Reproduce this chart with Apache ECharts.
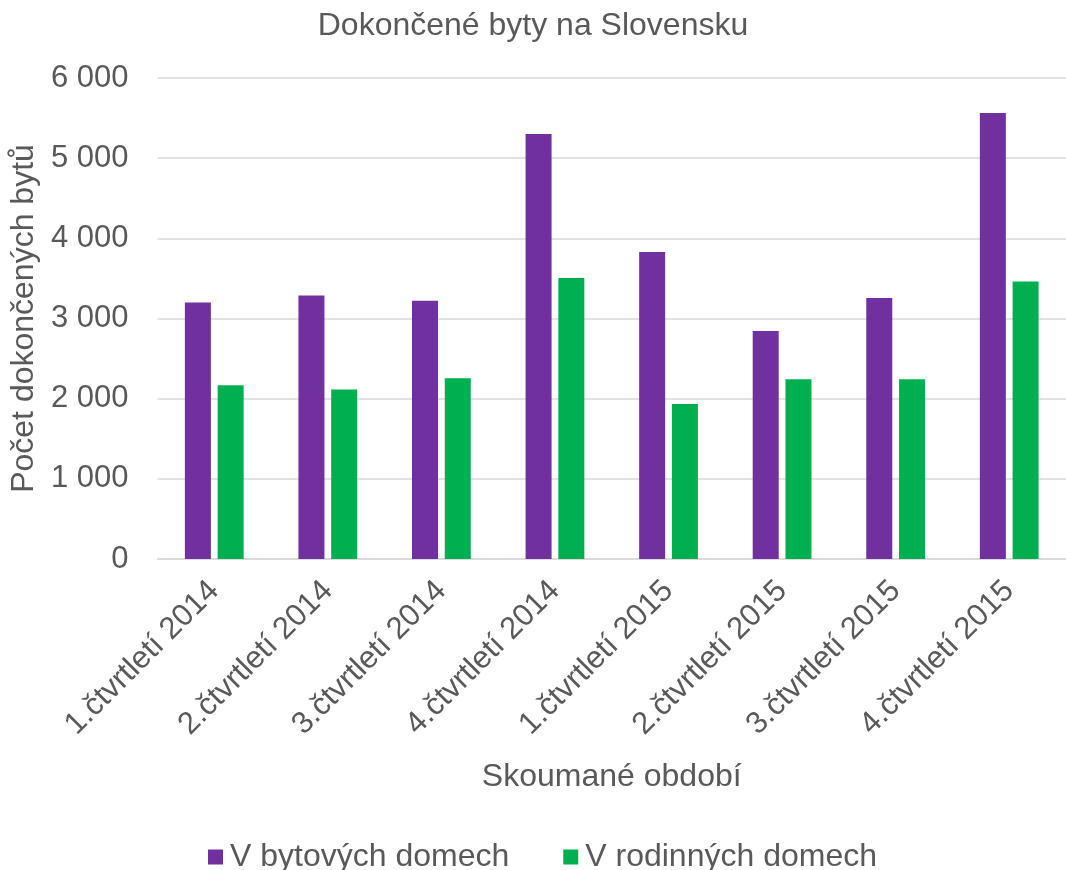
<!DOCTYPE html>
<html>
<head>
<meta charset="utf-8">
<script src="https://cdn.jsdelivr.net/npm/echarts@6/dist/echarts.min.js"></script>
<style>
  html, body { margin: 0; padding: 0; background: #fff; }
  #chart { width: 1066px; height: 870px; }
</style>
</head>
<body>
<div id="chart"></div>
<script>
const categories = [
  "1.čtvrtletí 2014", "2.čtvrtletí 2014", "3.čtvrtletí 2014", "4.čtvrtletí 2014",
  "1.čtvrtletí 2015", "2.čtvrtletí 2015", "3.čtvrtletí 2015", "4.čtvrtletí 2015"
];
const bytoveDomy = [3200, 3287, 3220, 5300, 3829, 2843, 3255, 5563];
const rodinneDomy = [2168, 2113, 2256, 3504, 1935, 2243, 2243, 3462];

const textColor = "#595959";
const fontName = "Liberation Sans";

const chart = echarts.init(document.getElementById("chart"));

const option = {
  animation: false,
  textStyle: { fontFamily: fontName },
  title: {
    text: "Dokončené byty na Slovensku",
    left: "center",
    top: 5,
    textStyle: { color: textColor, fontSize: 32, fontWeight: "normal", fontFamily: fontName }
  },
  legend: {
    top: 836,
    left: 203,
    itemWidth: 15,
    itemHeight: 15,
    itemGap: 54,
    icon: "rect",
    textStyle: { color: textColor, fontSize: 32, fontFamily: fontName, padding: [0, 0, 0, 2] },
    data: ["V bytových domech", "V rodinných domech"]
  },
  // plot area runs a little past the right edge, as in the original
  grid: { left: 157, right: -8, top: 78, bottom: 311 },
  xAxis: {
    type: "category",
    data: categories,
    name: "Skoumané období",
    nameLocation: "middle",
    nameGap: 202,
    nameTextStyle: { color: textColor, fontSize: 32, fontFamily: fontName },
    axisLine: { lineStyle: { color: "#d9d9d9", width: 1.5 } },
    axisTick: { show: false },
    axisLabel: {
      rotate: 45,
      color: textColor,
      fontSize: 31,
      fontFamily: fontName,
      interval: 0,
      margin: 27,
      padding: [30, 0, 0, 0]
    }
  },
  yAxis: {
    type: "value",
    min: 0,
    max: 6000,
    interval: 1000,
    name: "Počet dokončených bytů",
    nameLocation: "middle",
    nameGap: 110,
    nameTextStyle: { color: textColor, fontSize: 32, fontFamily: fontName },
    axisLine: { show: false },
    axisTick: { show: false },
    splitLine: { lineStyle: { color: "#d9d9d9", width: 1.5 } },
    axisLabel: {
      color: textColor,
      fontSize: 31,
      fontFamily: fontName,
      margin: 29,
      formatter: (v) => String(v).replace(/\B(?=(\d{3})+(?!\d))/g, " ")
    }
  },
  series: [
    {
      name: "V bytových domech",
      type: "bar",
      data: bytoveDomy,
      barWidth: 26,
      barGap: "26%",
      itemStyle: { color: "#7030a0" }
    },
    {
      name: "V rodinných domech",
      type: "bar",
      data: rodinneDomy,
      barWidth: 26,
      itemStyle: { color: "#00b050" }
    }
  ]
};

chart.setOption(option);
</script>
</body>
</html>
